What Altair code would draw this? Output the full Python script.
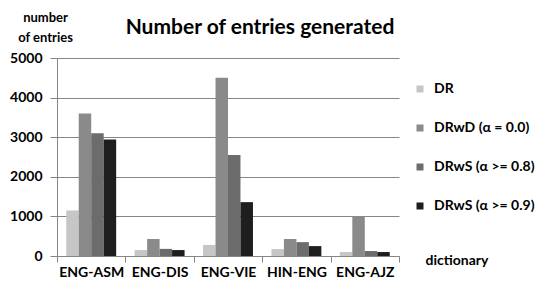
import altair as alt
import pandas as pd

categories = ["ENG-ASM", "ENG-DIS", "ENG-VIE", "HIN-ENG", "ENG-AJZ"]
series = ["DR", "DRwD (α = 0.0)", "DRwS (α >= 0.8)", "DRwS (α >= 0.9)"]
dr = [1150, 150, 280, 175, 100]
drwd = [3600, 430, 4500, 430, 1010]
drws08 = [3100, 180, 2550, 350, 125]
drws09 = [2940, 150, 1360, 250, 100]
y_ticks = [0, 1000, 2000, 3000, 4000, 5000]
colors = ["#c6c6c6", "#8a8a8a", "#6c6c6c", "#1e1e1e"]

rows = []
for s, vals in zip(series, [dr, drwd, drws08, drws09]):
    for c, v in zip(categories, vals):
        rows.append({"dictionary": c, "series": s, "value": v})
df = pd.DataFrame(rows)

font = "Lato"
grid = "#868686"

chart = alt.Chart(df).mark_bar().encode(
    x=alt.X(
        "dictionary:N",
        sort=categories,
        scale=alt.Scale(paddingInner=0, paddingOuter=0),
        axis=alt.Axis(
            title="dictionary",
            labelAngle=0,
            tickBand="extent",
            tickSize=6,
            tickColor=grid,
            domainColor=grid,
            labelFont=font,
            labelFontSize=14,
            labelFontWeight="bold",
            labelColor="black",
            labelPadding=3,
            titleFont=font,
            titleFontSize=14,
            titleFontWeight="bold",
            titleAnchor="start",
            titleX=368,
            titleY=-3,
            titleAlign="left",
            titleBaseline="top",
        ),
    ),
    xOffset=alt.XOffset(
        "series:N", sort=series,
        scale=alt.Scale(domain=series, paddingInner=0, paddingOuter=0.74),
    ),
    y=alt.Y(
        "value:Q",
        scale=alt.Scale(domain=[0, 5000]),
        axis=alt.Axis(
            values=y_ticks,
            format="d",
            title=["number", "of entries"],
            titleAngle=0,
            titleAlign="center",
            titleBaseline="top",
            titleX=-12,
            titleY=-47,
            titleLineHeight=20,
            titleFont=font,
            titleFontSize=13,
            titleFontWeight="bold",
            labelFont=font,
            labelFontSize=14,
            labelFontWeight="bold",
            labelColor="black",
            labelPadding=8,
            tickSize=7,
            tickColor=grid,
            domainColor=grid,
            gridColor=grid,
        ),
    ),
    color=alt.Color(
        "series:N",
        sort=series,
        scale=alt.Scale(domain=series, range=colors),
        legend=alt.Legend(
            title=None,
            orient="none",
            legendX=356,
            legendY=24,
            padding=0,
            symbolType="square",
            symbolSize=49,
            symbolStrokeWidth=0,
            labelFont=font,
            labelFontSize=14,
            labelFontWeight="bold",
            labelOffset=7,
            rowPadding=25,
        ),
    ),
).properties(
    width=342,
    height=198,
    title=alt.TitleParams(
        "Number of entries generated",
        font=font,
        fontSize=21,
        fontWeight="bold",
        anchor="middle",
        baseline="alphabetic",
        dx=32,
        dy=48,
    ),
    padding={"left": 49, "top": 50, "right": 148, "bottom": 30},
    autosize=alt.AutoSizeParams(type="none"),
).configure_view(stroke=None)

chart.save("out.html", embed_options={"renderer": "svg", "actions": False})
